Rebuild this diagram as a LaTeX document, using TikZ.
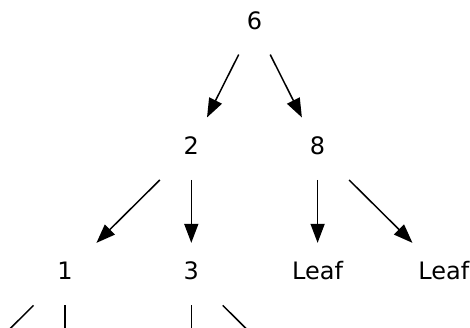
\documentclass[tikz,border=0pt]{standalone}
\usepackage{fontspec}
\setmainfont{DejaVu Sans}
\usetikzlibrary{arrows.meta}
\tikzset{>={Triangle[width=14pt,length=19pt]}}

\begin{document}
\begin{tikzpicture}[x=1pt,y=-1pt,line width=1.5pt,
  tn/.style={inner sep=0pt,minimum width=64pt,minimum height=61pt,
    text height=16.5pt,text depth=5pt,font=\fontsize{24}{28}\selectfont}]

  \newcommand\X{126.3}
  \newcommand\Y{125.4}

  \useasboundingbox (0,0) rectangle (470,327);
  \clip (0,0) rectangle (470,327);

  % levels 0..2
  \node[tn] (six)   at (65+1.5*\X, 23.3+0*\Y) {6};
  \node[tn] (two)   at (65+1*\X,   23.3+1*\Y) {2};
  \node[tn] (eight) at (65+2*\X,   23.3+1*\Y) {8};
  \node[tn] (one)   at (65+0*\X,   23.3+2*\Y) {1};
  \node[tn] (three) at (65+1*\X,   23.3+2*\Y) {3};
  \node[tn] (leafa) at (65+2*\X,   23.3+2*\Y) {Leaf};
  \node[tn] (leafb) at (65+3*\X,   23.3+2*\Y) {Leaf};

  % level 3, below the page
  \coordinate (onel)   at (65-1*\X, 23.3+3*\Y);
  \coordinate (oner)   at (65+0*\X, 23.3+3*\Y);
  \coordinate (threel) at (65+1*\X, 23.3+3*\Y);
  \coordinate (threer) at (65+2*\X, 23.3+3*\Y);

  \draw[->] (six) -- (two);
  \draw[->] (six) -- (eight);
  \draw[->] (two) -- (one);
  \draw[->] (two) -- (three);
  \draw[->] (eight) -- (leafa);
  \draw[->] (eight) -- (leafb);

  \draw[->] (one) -- (onel);
  \draw[->] (one) -- (oner);
  \draw[->] (three) -- (threel);
  \draw[->] (three) -- (threer);

\end{tikzpicture}
\end{document}
